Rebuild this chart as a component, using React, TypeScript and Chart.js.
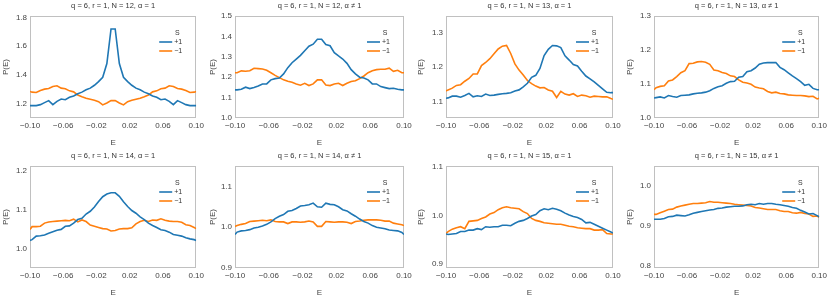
import React, { useEffect, useRef } from "react";
import { Chart, registerables } from "chart.js";

Chart.register(...registerables);

// Energy grid (bin centres, plus the two window edges)
const E = [
  -0.1, -0.0975, -0.0925, -0.0875, -0.0825, -0.0775, -0.0725, -0.0675, -0.0625, -0.0575, -0.0525,
  -0.0475, -0.0425, -0.0375, -0.0325, -0.0275, -0.0225, -0.0175, -0.0125, -0.0075, -0.0025,
  0.0025, 0.0075, 0.0125, 0.0175, 0.0225, 0.0275, 0.0325, 0.0375, 0.0425, 0.0475,
  0.0525, 0.0575, 0.0625, 0.0675, 0.0725, 0.0775, 0.0825, 0.0875, 0.0925, 0.0975, 0.1,
];

const X_TICKS = [-0.1, -0.06, -0.02, 0.02, 0.06, 0.1];

// N=12, alpha=1
const N12A1_PLUS = [1.186, 1.186, 1.186, 1.193, 1.207, 1.221, 1.193, 1.216, 1.232, 1.227, 1.244, 1.253, 1.269, 1.280, 1.296, 1.308, 1.328, 1.353, 1.383, 1.479, 1.720, 1.720, 1.479, 1.383, 1.353, 1.328, 1.308, 1.296, 1.280, 1.269, 1.253, 1.244, 1.227, 1.232, 1.216, 1.193, 1.221, 1.207, 1.193, 1.186, 1.186, 1.186];
const N12A1_MINUS = [1.285, 1.280, 1.278, 1.292, 1.301, 1.305, 1.319, 1.324, 1.308, 1.303, 1.289, 1.282, 1.260, 1.248, 1.237, 1.230, 1.223, 1.214, 1.191, 1.205, 1.221, 1.221, 1.205, 1.191, 1.214, 1.223, 1.230, 1.237, 1.248, 1.260, 1.282, 1.289, 1.303, 1.308, 1.324, 1.319, 1.305, 1.301, 1.292, 1.278, 1.280, 1.285];
// N=12, alpha!=1
const N12A2_PLUS = [1.138, 1.138, 1.141, 1.151, 1.144, 1.149, 1.157, 1.167, 1.167, 1.187, 1.193, 1.196, 1.216, 1.247, 1.271, 1.289, 1.307, 1.330, 1.352, 1.362, 1.386, 1.386, 1.360, 1.354, 1.320, 1.304, 1.289, 1.268, 1.237, 1.216, 1.200, 1.196, 1.187, 1.167, 1.167, 1.154, 1.149, 1.144, 1.146, 1.141, 1.138, 1.138];
const N12A2_MINUS = [1.222, 1.222, 1.231, 1.229, 1.232, 1.244, 1.242, 1.240, 1.234, 1.222, 1.209, 1.198, 1.187, 1.180, 1.175, 1.167, 1.161, 1.170, 1.159, 1.167, 1.187, 1.187, 1.162, 1.159, 1.167, 1.170, 1.159, 1.170, 1.179, 1.183, 1.193, 1.206, 1.222, 1.232, 1.237, 1.239, 1.239, 1.244, 1.229, 1.234, 1.222, 1.222];
// N=13, alpha=1
const N13A1_PLUS = [1.110, 1.111, 1.116, 1.116, 1.113, 1.118, 1.124, 1.114, 1.117, 1.115, 1.122, 1.118, 1.119, 1.121, 1.123, 1.124, 1.126, 1.131, 1.134, 1.143, 1.153, 1.170, 1.176, 1.196, 1.233, 1.251, 1.262, 1.261, 1.256, 1.232, 1.220, 1.207, 1.203, 1.188, 1.174, 1.166, 1.157, 1.147, 1.137, 1.127, 1.126, 1.126];
const N13A1_MINUS = [1.131, 1.134, 1.139, 1.147, 1.149, 1.159, 1.167, 1.180, 1.180, 1.204, 1.213, 1.224, 1.238, 1.252, 1.260, 1.262, 1.239, 1.209, 1.191, 1.177, 1.161, 1.152, 1.145, 1.140, 1.141, 1.134, 1.130, 1.112, 1.130, 1.122, 1.119, 1.123, 1.115, 1.119, 1.117, 1.113, 1.116, 1.115, 1.114, 1.114, 1.109, 1.107];
// N=13, alpha!=1
const N13A2_PLUS = [1.059, 1.060, 1.062, 1.059, 1.066, 1.063, 1.061, 1.066, 1.067, 1.068, 1.071, 1.073, 1.074, 1.076, 1.080, 1.087, 1.092, 1.095, 1.102, 1.107, 1.108, 1.120, 1.122, 1.136, 1.139, 1.147, 1.158, 1.162, 1.163, 1.163, 1.163, 1.149, 1.142, 1.133, 1.124, 1.116, 1.107, 1.096, 1.099, 1.087, 1.083, 1.083];
const N13A2_MINUS = [1.083, 1.089, 1.093, 1.095, 1.109, 1.112, 1.122, 1.133, 1.139, 1.160, 1.161, 1.165, 1.166, 1.164, 1.158, 1.141, 1.139, 1.134, 1.131, 1.124, 1.122, 1.112, 1.105, 1.103, 1.099, 1.091, 1.088, 1.086, 1.078, 1.074, 1.076, 1.072, 1.071, 1.068, 1.067, 1.066, 1.066, 1.065, 1.063, 1.064, 1.056, 1.058];
// N=14, alpha=1
const N14A1_PLUS = [1.022, 1.024, 1.033, 1.034, 1.036, 1.040, 1.044, 1.048, 1.050, 1.058, 1.059, 1.066, 1.075, 1.078, 1.089, 1.096, 1.107, 1.121, 1.133, 1.140, 1.143, 1.143, 1.134, 1.120, 1.108, 1.098, 1.091, 1.082, 1.075, 1.066, 1.060, 1.055, 1.049, 1.047, 1.043, 1.037, 1.035, 1.033, 1.029, 1.026, 1.024, 1.022];
const N14A1_MINUS = [1.050, 1.057, 1.057, 1.058, 1.066, 1.069, 1.070, 1.071, 1.072, 1.073, 1.072, 1.076, 1.069, 1.074, 1.070, 1.061, 1.058, 1.055, 1.052, 1.051, 1.046, 1.047, 1.051, 1.052, 1.052, 1.054, 1.064, 1.070, 1.073, 1.070, 1.074, 1.073, 1.077, 1.073, 1.071, 1.070, 1.070, 1.068, 1.062, 1.060, 1.055, 1.052];
// N=14, alpha!=1
const N14A2_PLUS = [0.982, 0.988, 0.991, 0.992, 0.994, 0.998, 1.000, 1.003, 1.007, 1.013, 1.021, 1.027, 1.031, 1.039, 1.041, 1.046, 1.052, 1.053, 1.055, 1.059, 1.050, 1.049, 1.059, 1.056, 1.055, 1.050, 1.043, 1.040, 1.033, 1.027, 1.020, 1.014, 1.010, 1.004, 1.000, 0.998, 0.996, 0.993, 0.992, 0.991, 0.987, 0.982];
const N14A2_MINUS = [1.002, 1.004, 1.007, 1.009, 1.014, 1.015, 1.016, 1.017, 1.016, 1.018, 1.014, 1.013, 1.013, 1.009, 1.013, 1.013, 1.012, 1.013, 1.015, 1.013, 1.002, 1.002, 1.014, 1.013, 1.012, 1.013, 1.013, 1.012, 1.009, 1.014, 1.015, 1.017, 1.018, 1.018, 1.018, 1.017, 1.015, 1.015, 1.010, 1.008, 1.006, 1.004];
// N=15, alpha=1
const N15A1_PLUS = [0.962, 0.961, 0.962, 0.963, 0.967, 0.967, 0.970, 0.970, 0.973, 0.971, 0.977, 0.976, 0.977, 0.977, 0.980, 0.980, 0.979, 0.984, 0.988, 0.990, 0.994, 0.999, 1.002, 1.010, 1.014, 1.012, 1.015, 1.013, 1.010, 1.005, 1.001, 0.998, 0.996, 0.992, 0.985, 0.986, 0.982, 0.978, 0.974, 0.970, 0.966, 0.964];
const N15A1_MINUS = [0.963, 0.967, 0.972, 0.975, 0.977, 0.973, 0.988, 0.989, 0.990, 0.994, 0.997, 1.003, 1.006, 1.012, 1.016, 1.018, 1.016, 1.015, 1.014, 1.008, 1.004, 0.994, 0.990, 0.988, 0.985, 0.984, 0.983, 0.982, 0.982, 0.980, 0.978, 0.977, 0.975, 0.974, 0.973, 0.973, 0.970, 0.970, 0.971, 0.963, 0.962, 0.962];
// N=15, alpha!=1
const N15A2_PLUS = [0.916, 0.916, 0.916, 0.918, 0.922, 0.923, 0.926, 0.925, 0.924, 0.927, 0.931, 0.933, 0.935, 0.937, 0.939, 0.940, 0.943, 0.944, 0.946, 0.947, 0.948, 0.948, 0.949, 0.952, 0.953, 0.952, 0.955, 0.953, 0.955, 0.955, 0.953, 0.952, 0.950, 0.948, 0.945, 0.943, 0.938, 0.934, 0.929, 0.930, 0.925, 0.922];
const N15A2_MINUS = [0.928, 0.928, 0.932, 0.936, 0.940, 0.941, 0.946, 0.949, 0.951, 0.953, 0.955, 0.955, 0.956, 0.957, 0.960, 0.958, 0.958, 0.957, 0.956, 0.955, 0.953, 0.952, 0.951, 0.950, 0.949, 0.945, 0.944, 0.942, 0.940, 0.940, 0.940, 0.937, 0.935, 0.935, 0.932, 0.931, 0.933, 0.930, 0.929, 0.923, 0.924, 0.921];

const Y_TICKS_1 = [1.2, 1.4, 1.6, 1.8];
const Y_TICKS_2 = [1.0, 1.1, 1.2, 1.3, 1.4, 1.5];
const Y_TICKS_3 = [1.1, 1.2, 1.3];
const Y_TICKS_4 = [1.0, 1.1, 1.2, 1.3];
const Y_TICKS_5 = [1.0, 1.1, 1.2];
const Y_TICKS_6 = [0.9, 1.0, 1.1];
const Y_TICKS_7 = [0.9, 1.0, 1.1];
const Y_TICKS_8 = [0.8, 0.9, 1.0];

const TITLES = [
  "q = 6, r = 1, N = 12, α = 1",
  "q = 6, r = 1, N = 12, α ≠ 1",
  "q = 6, r = 1, N = 13, α = 1",
  "q = 6, r = 1, N = 13, α ≠ 1",
  "q = 6, r = 1, N = 14, α = 1",
  "q = 6, r = 1, N = 14, α ≠ 1",
  "q = 6, r = 1, N = 15, α = 1",
  "q = 6, r = 1, N = 15, α ≠ 1",
];

const LEGEND_TITLE = "S";
const SERIES_LABELS = ["+1", "−1"];

const BLUE = "#1f77b4";
const ORANGE = "#ff7f0e";
const FONT = "'Liberation Sans', Arial, sans-serif";

const PANELS = [
  { plus: N12A1_PLUS, minus: N12A1_MINUS, yMin: 1.1, yMax: 1.81, yTicks: Y_TICKS_1 },
  { plus: N12A2_PLUS, minus: N12A2_MINUS, yMin: 1.0, yMax: 1.5, yTicks: Y_TICKS_2 },
  { plus: N13A1_PLUS, minus: N13A1_MINUS, yMin: 1.053, yMax: 1.347, yTicks: Y_TICKS_3 },
  { plus: N13A2_PLUS, minus: N13A2_MINUS, yMin: 1.0, yMax: 1.3, yTicks: Y_TICKS_4 },
  { plus: N14A1_PLUS, minus: N14A1_MINUS, yMin: 0.952, yMax: 1.211, yTicks: Y_TICKS_5 },
  { plus: N14A2_PLUS, minus: N14A2_MINUS, yMin: 0.9, yMax: 1.15, yTicks: Y_TICKS_6 },
  { plus: N15A1_PLUS, minus: N15A1_MINUS, yMin: 0.892, yMax: 1.102, yTicks: Y_TICKS_7 },
  { plus: N15A2_PLUS, minus: N15A2_MINUS, yMin: 0.795, yMax: 1.048, yTicks: Y_TICKS_8 },
];

const COLS = [
  { left: 0, width: 207, yw: 30, pr: 10 },
  { left: 207, width: 208, yw: 28, pr: 11 },
  { left: 415, width: 209, yw: 31, pr: 11 },
  { left: 624, width: 206, yw: 30, pr: 8 },
];
const ROWS = [
  { top: 0, height: 150, xh: 32, pt: 16, tb: 2 },
  { top: 150, height: 149, xh: 31, pt: 16, tb: 1 },
];

function fmtX(v: number) {
  const s = Math.abs(v).toFixed(2);
  return v < -1e-9 ? "−" + s : s;
}

function Panel({ idx }: { idx: number }) {
  const ref = useRef<HTMLCanvasElement | null>(null);
  const p = PANELS[idx];
  const col = COLS[idx % 4];
  const row = ROWS[Math.floor(idx / 4)];
  const title = TITLES[idx];

  useEffect(() => {
    if (!ref.current) return;
    const decor = {
      id: "decor",
      beforeDatasetsDraw(chart: any) {
        const { ctx, chartArea: a } = chart;
        ctx.save();
        ctx.strokeStyle = "#c0c0c0";
        ctx.lineWidth = 1;
        ctx.strokeRect(Math.round(a.left) + 0.5, Math.round(a.top) + 0.5, Math.round(a.right - a.left) - 1, Math.round(a.bottom - a.top) - 1);
        ctx.restore();
      },
      afterDraw(chart: any) {
        const { ctx, chartArea: a } = chart;
        ctx.save();
        ctx.fillStyle = "#333";
        ctx.font = `7.5px ${FONT}`;
        ctx.textAlign = "center";
        ctx.textBaseline = "middle";
        ctx.fillText(title, (a.left + a.right) / 2, a.top - 10);
        // legend
        ctx.font = `7px ${FONT}`;
        ctx.fillStyle = "#333";
        ctx.textAlign = "center";
        ctx.fillText(LEGEND_TITLE, a.right - 19, a.top + 17);
        const cols = [BLUE, ORANGE];
        SERIES_LABELS.forEach((lab, i) => {
          const y = a.top + 26 + i * 9;
          ctx.strokeStyle = cols[i];
          ctx.lineWidth = 1.6;
          ctx.beginPath();
          ctx.moveTo(a.right - 37, y);
          ctx.lineTo(a.right - 24, y);
          ctx.stroke();
          ctx.textAlign = "left";
          ctx.fillText(lab, a.right - 22, y);
        });
        ctx.restore();
      },
    };

    const mk = (ys: number[], color: string) => ({
      data: E.map((x, i) => ({ x, y: ys[i] })),
      borderColor: color,
      borderWidth: 1.6,
      pointRadius: 0,
      fill: false,
      tension: 0,
    });

    const chart = new Chart(ref.current, {
      type: "line",
      data: { datasets: [mk(p.plus, BLUE), mk(p.minus, ORANGE)] as any },
      options: {
        animation: false,
        responsive: false,
        devicePixelRatio: 1,
        layout: { padding: { top: row.pt, right: col.pr, left: 0, bottom: 0 } },
        plugins: { legend: { display: false }, title: { display: false }, tooltip: { enabled: false } },
        scales: {
          x: {
            type: "linear",
            min: -0.1,
            max: 0.1,
            grid: { display: false, drawTicks: false },
            border: { display: false },
            afterBuildTicks: (s: any) => {
              s.ticks = X_TICKS.map((v) => ({ value: v }));
            },
            afterFit: (s: any) => {
              s.height = row.xh;
            },
            ticks: {
              autoSkip: false,
              maxRotation: 0,
              padding: 3,
              color: "#444",
              font: { size: 8, family: FONT },
              callback: (v: any) => fmtX(Number(v)),
            },
            title: { display: true, text: "E", color: "#444", font: { size: 8, family: FONT }, padding: { top: 0, bottom: row.tb } },
          },
          y: {
            type: "linear",
            min: p.yMin,
            max: p.yMax,
            grid: { display: false, drawTicks: false },
            border: { display: false },
            afterBuildTicks: (s: any) => {
              s.ticks = p.yTicks.map((v) => ({ value: v }));
            },
            afterFit: (s: any) => {
              s.width = col.yw;
            },
            ticks: {
              autoSkip: false,
              padding: 3,
              color: "#444",
              font: { size: 8, family: FONT },
              callback: (v: any) => Number(v).toFixed(1),
            },
            title: { display: true, text: "P(E)", color: "#444", font: { size: 8, family: FONT }, padding: { top: 1, bottom: 0 } },
          },
        },
      } as any,
      plugins: [decor],
    });
    return () => chart.destroy();
  }, [idx]);

  return (
    <canvas
      ref={ref}
      width={col.width}
      height={row.height}
      style={{ position: "absolute", left: col.left, top: row.top, width: col.width, height: row.height }}
    />
  );
}

export default function App() {
  return (
    <div style={{ position: "absolute", left: 0, top: 0, width: 830, height: 299, background: "#fff", overflow: "hidden" }}>
      {PANELS.map((_, i) => (
        <Panel key={i} idx={i} />
      ))}
    </div>
  );
}
